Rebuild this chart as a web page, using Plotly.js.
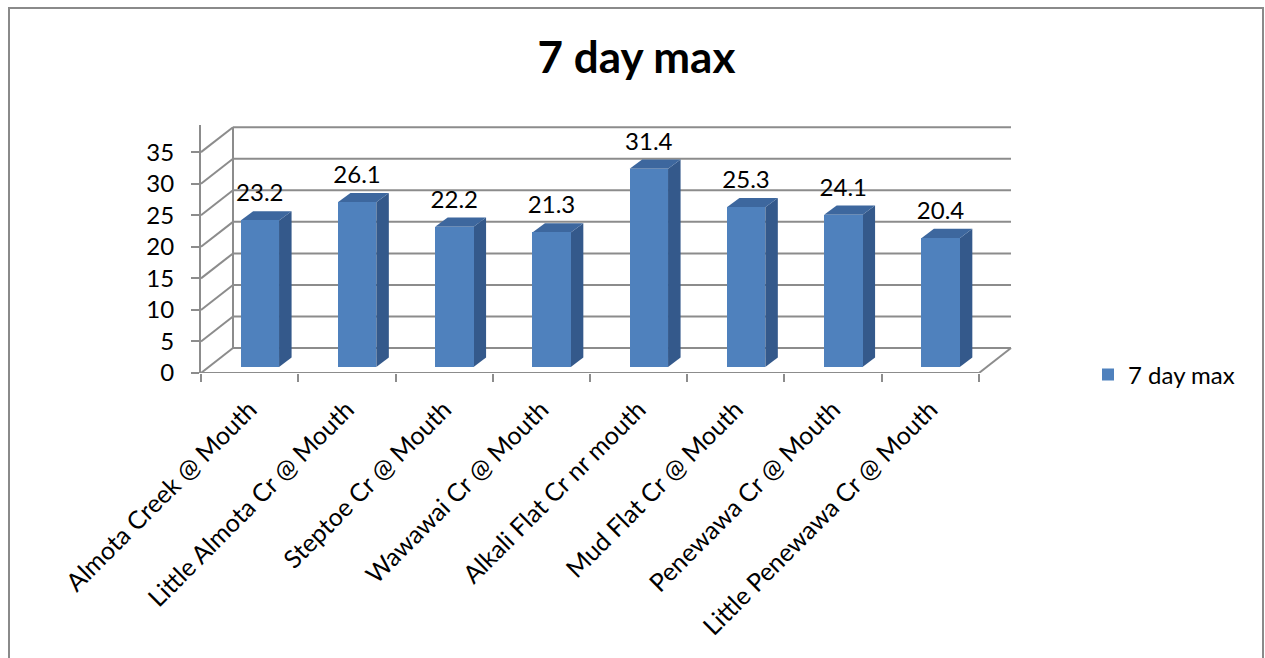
<!DOCTYPE html>
<html>
<head>
<meta charset="utf-8">
<script src="https://cdn.plot.ly/plotly-3.0.1.min.js"></script>
<style>
  html, body { margin: 0; padding: 0; background: #ffffff; }
  #chart { width: 1265px; height: 658px; }
</style>
</head>
<body>
<div id="chart"></div>
<script>
// ---- data ----
const categories = [
  "Almota Creek @ Mouth",
  "Little Almota Cr @ Mouth",
  "Steptoe Cr @ Mouth",
  "Wawawai Cr @ Mouth",
  "Alkali Flat Cr nr mouth",
  "Mud Flat Cr @ Mouth",
  "Penewawa Cr @ Mouth",
  "Little Penewawa Cr @ Mouth"
];
const values = [23.2, 26.1, 22.2, 21.3, 31.4, 25.3, 24.1, 20.4];
const seriesName = "7 day max";
const chartTitle = "7 day max";
const yTicks = [0, 5, 10, 15, 20, 25, 30, 35];

// ---- styling / 3D geometry ----
const FONT = "Lato, 'Open Sans', sans-serif";
const GRID = "#8c8c8c";
const FRONT = "#4f81bd";
const SIDE = "#34598b";
const TOP = "#3d679e";
const W = 1265, H = 658;
const mL = 201, mR = 251, mT = 125, mB = 285;
const N = categories.length;
const xMax = 8.36, yMax = 39.3;
const DX = 0.329, DY = 3.95;      // wall depth (data units)
const BX = 0.105, BY = 0.97;      // bar front face offset
const BW = 0.395;                 // bar width
const BDX = 0.129, BDY = 1.47;    // bar depth

const shapes = [];
// back wall gridlines and left wall diagonals
yTicks.forEach(v => {
  shapes.push({type: "line", xref: "x", yref: "y", layer: "below",
    x0: DX, y0: v + DY, x1: N + DX, y1: v + DY, line: {color: GRID, width: 2}});
  shapes.push({type: "line", xref: "x", yref: "y", layer: "below",
    x0: 0, y0: v, x1: DX, y1: v + DY, line: {color: GRID, width: 2}});
});
// back wall left edge
shapes.push({type: "line", xref: "x", yref: "y", layer: "below",
  x0: DX, y0: DY, x1: DX, y1: yTicks[yTicks.length - 1] + DY, line: {color: GRID, width: 2}});
// floor right edge
shapes.push({type: "line", xref: "x", yref: "y", layer: "below",
  x0: N, y0: 0, x1: N + DX, y1: DY, line: {color: GRID, width: 2}});

// bar side and top faces
const centers = values.map((v, i) => i + 0.5 + BX);
values.forEach((v, i) => {
  const xl = centers[i] - BW / 2, xr = centers[i] + BW / 2;
  const top = BY + v;
  shapes.push({type: "path", xref: "x", yref: "y", layer: "below",
    path: `M${xr},${BY} L${xr + BDX},${BY + BDY} L${xr + BDX},${top + BDY} L${xr},${top} Z`,
    fillcolor: SIDE, line: {width: 0}});
  shapes.push({type: "path", xref: "x", yref: "y", layer: "below",
    path: `M${xl},${top} L${xl + BDX},${top + BDY} L${xr + BDX},${top + BDY} L${xr},${top} Z`,
    fillcolor: TOP, line: {width: 0}});
});

// chart border
const pw = W - mL - mR, ph = H - mT - mB;
shapes.push({type: "rect", xref: "paper", yref: "paper", layer: "below",
  x0: (9 - mL) / pw, x1: (1263 - mL) / pw,
  y0: (H - mB - 670) / ph, y1: (H - mB - 8) / ph,
  line: {color: "#8a8a8a", width: 2}, fillcolor: "rgba(0,0,0,0)"});

const traces = [
  {
    type: "bar", x: centers, y: values, base: values.map(() => BY),
    width: BW, name: seriesName,
    marker: {color: FRONT, line: {width: 0}},
    hoverinfo: "skip"
  },
  {
    type: "scatter", mode: "text", x: centers,
    y: values.map(v => BY + v + BDY + 0.6),
    text: values.map(v => v.toFixed(1)),
    textposition: "top center",
    textfont: {family: FONT, size: 24, color: "#000000"},
    showlegend: false, hoverinfo: "skip", cliponaxis: false
  }
];

const layout = {
  width: W, height: H,
  margin: {l: mL, r: mR, t: mT, b: mB},
  paper_bgcolor: "#ffffff", plot_bgcolor: "rgba(0,0,0,0)",
  font: {family: FONT, size: 24, color: "#000000"},
  title: {text: "<b>" + chartTitle + "</b>", font: {family: FONT, size: 44, color: "#000000"},
    x: 636.5 / W, xref: "container", xanchor: "center",
    y: 1 - 58 / H, yref: "container", yanchor: "middle"},
  showlegend: true,
  legend: {x: (1088 - mL) / pw, xanchor: "left", y: (H - mB - 375) / ph, yanchor: "middle",
    font: {family: FONT, size: 24, color: "#000000"}, bgcolor: "rgba(0,0,0,0)"},
  bargap: 0,
  xaxis: {
    range: [0, xMax], tickmode: "array",
    tickvals: categories.map((c, i) => i + 0.5), ticktext: categories,
    tickangle: -45, ticks: "", showgrid: false, zeroline: false,
    showline: false, tickfont: {family: FONT, size: 25},
    ticklabelstandoff: 16, fixedrange: true
  },
  xaxis2: {
    overlaying: "x", range: [0, xMax], tickmode: "array",
    tickvals: categories.map((c, i) => i).concat([N]),
    showticklabels: false, ticks: "outside", ticklen: 8, tickwidth: 2, tickcolor: GRID,
    showgrid: false, zeroline: false, showline: false, side: "bottom", fixedrange: true
  },
  yaxis: {
    range: [0, yMax], tickmode: "array", tickvals: yTicks,
    ticks: "outside", ticklen: 8, tickwidth: 2, tickcolor: GRID,
    showline: true, linecolor: GRID, linewidth: 2,
    showgrid: false, zeroline: false, tickfont: {family: FONT, size: 24},
    ticklabelstandoff: 12, fixedrange: true
  },
  shapes: shapes
};

// front floor edge drawn as a line trace on the axes
traces.push({
  type: "scatter", mode: "lines", x: [0, N], y: [0, 0], xaxis: "x", yaxis: "y",
  line: {color: GRID, width: 2}, showlegend: false, hoverinfo: "skip", cliponaxis: false
});
// dummy trace to activate xaxis2 ticks
traces.push({
  type: "scatter", mode: "none", x: [0], y: [0], xaxis: "x2", yaxis: "y",
  showlegend: false, hoverinfo: "skip"
});

Plotly.newPlot("chart", traces, layout, {displayModeBar: false, staticPlot: true});
</script>
</body>
</html>
